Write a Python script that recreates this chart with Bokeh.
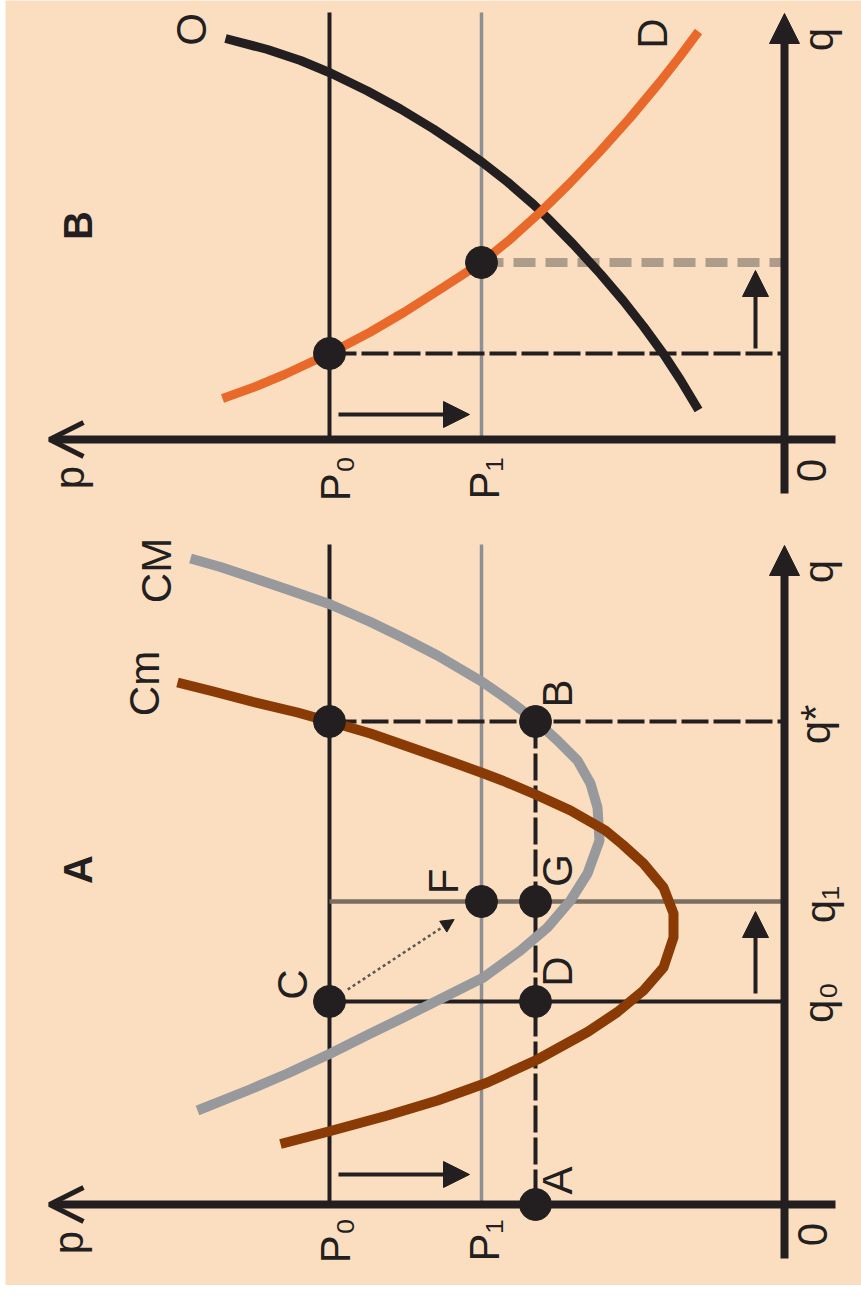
import math
from bokeh.plotting import figure
from bokeh.models import ColumnDataSource, Arrow, OpenHead, NormalHead, Range1d
from bokeh.core.properties import value
from bokeh.embed import file_html
from bokeh.resources import INLINE

# ---------------- data (x = price p, y = quantity q) ----------------
# Panel B: market supply "O" and demand "D"
supply_p = [11.18, 10.34, 9.68, 9.08, 8.34, 7.68, 7.02, 6.48, 6.04, 5.54, 5.02, 4.74, 4.22, 3.68, 3.22, 2.82, 2.42, 2.08, 1.72]
supply_q = [8.02, 7.80, 7.58, 7.33, 6.97, 6.61, 6.21, 5.85, 5.54, 5.15, 4.70, 4.43, 3.90, 3.31, 2.77, 2.26, 1.71, 1.19, 0.59]
demand_p = [11.24, 10.60, 10.00, 9.10, 8.30, 7.60, 6.80, 6.06, 5.50, 4.88, 4.30, 3.70, 3.10, 2.50, 2.10, 1.72]
demand_q = [0.82, 1.05, 1.30, 1.72, 2.14, 2.55, 3.06, 3.54, 3.99, 4.55, 5.12, 5.75, 6.42, 7.14, 7.65, 8.16]

# Panel A: firm average cost "CM" and marginal cost "Cm"
cme_p = [11.88, 11.28, 10.62, 9.94, 9.08, 8.28, 7.62, 6.94, 6.04, 5.48, 4.98, 4.54, 4.14, 3.88, 3.74, 3.70,
         3.94, 4.28, 4.74, 5.28, 6.02, 6.82, 7.62, 8.28, 9.08, 9.94, 10.74, 11.74]
cme_q = [12.92, 12.75, 12.53, 12.30, 12.00, 11.65, 11.33, 10.98, 10.45, 10.06, 9.68, 9.28, 8.88, 8.42, 7.94, 7.28,
         6.62, 6.08, 5.54, 5.08, 4.54, 4.14, 3.74, 3.42, 3.02, 2.62, 2.28, 1.88]
cmg_p = [12.14, 11.42, 10.62, 9.74, 9.10, 8.28, 7.42, 6.62, 6.04, 5.62, 4.98, 4.28, 3.58, 3.24, 2.82, 2.42, 2.22,
         2.22, 2.42, 2.82, 3.34, 3.94, 4.94, 5.94, 6.94, 7.94, 9.08, 10.08]
cmg_q = [10.44, 10.26, 10.05, 9.84, 9.66, 9.42, 9.12, 8.84, 8.63, 8.47, 8.20, 7.88, 7.48, 7.20, 6.82, 6.34, 5.82,
         5.34, 4.74, 4.28, 3.85, 3.45, 2.90, 2.44, 2.08, 1.78, 1.47, 1.21]

# price levels
P0 = 9.10
P1 = 6.06
pA = 4.98
# market quantities (panel B)
qB0 = 1.72
qB1 = 3.54
# firm quantities (panel A)
q_star = 9.66
q1 = 6.06
q0 = 4.06

# axis texts
p_name = "p"
q_name = "q"
origin_name = "0"
P0_name = "P₀"
P1_name = "P₁"
qstar_name = "q*"
q1_name = "q₁"
q0_name = "q₀"

# ---------------- style ----------------
BG = "#FBDEC0"
INK = "#231f20"
ORANGE = "#E8692A"
BROWN = "#8A3B05"
GRAY = "#98999C"
FONT = value("Liberation Sans")
ROT = math.pi / 2
DASH = "27 5"

W = 861
H = 1285

p = figure(width=W, height=H, x_range=Range1d(15.58, -1.54), y_range=Range1d(-1.62, 24.08),
           output_backend="svg", toolbar_location=None,
           x_axis_location=None, y_axis_location=None,
           min_border_left=5, min_border_right=0, min_border_top=0, min_border_bottom=0)
p.extra_y_ranges = {"B": Range1d(-16.92, 8.78)}
p.background_fill_color = BG
p.border_fill_color = "white"
p.outline_line_color = None
p.xgrid.visible = False
p.ygrid.visible = False


def axes(rn, q_tip, q_bottom):
    p.add_layout(Arrow(x_start=-1.02, y_start=0, x_end=14.70, y_end=0, line_color=INK, line_width=8,
                       y_range_name=rn, end=OpenHead(size=34, line_color=INK, line_width=5)))
    p.add_layout(Arrow(x_start=0, y_start=q_bottom, x_end=0, y_end=q_tip, line_color=INK, line_width=8,
                       y_range_name=rn, end=NormalHead(size=30, fill_color=INK, line_color=INK, line_width=1)))


def arrow(rn, x0, y0, x1, y1, size=26, lw=4):
    p.add_layout(Arrow(x_start=x0, y_start=y0, x_end=x1, y_end=y1, line_color=INK, line_width=lw,
                       y_range_name=rn, end=NormalHead(size=size, fill_color=INK, line_color=INK, line_width=1)))


def labels(rn, xs, ys, texts, xo, yo, size="42px", style="normal"):
    src = ColumnDataSource(dict(x=xs, y=ys, t=texts, xo=xo, yo=yo))
    p.text(x="x", y="y", text="t", x_offset="xo", y_offset="yo", source=src, angle=ROT,
           text_font=FONT, text_font_size=value(size), text_font_style=style, text_color=INK,
           text_align="center", text_baseline="middle", y_range_name=rn)


# ================= Panel B (top) =================
B = "B"
top_B = 8.54
p.segment(x0=[P0], y0=[0], x1=[P0], y1=[top_B], line_color=INK, line_width=4, y_range_name=B)
p.segment(x0=[P1], y0=[0], x1=[P1], y1=[top_B], line_color="#8E8F93", line_width=3.5, y_range_name=B)
p.segment(x0=[P0], y0=[qB0], x1=[0], y1=[qB0], line_color=INK, line_width=4, line_dash=DASH, y_range_name=B)
p.segment(x0=[P1], y0=[qB1], x1=[0], y1=[qB1], line_color="#AE9C8A", line_width=9, line_dash="22 10",
          y_range_name=B)
p.line(supply_p, supply_q, line_color=INK, line_width=9, line_join="round", y_range_name=B)
p.line(demand_p, demand_q, line_color=ORANGE, line_width=9, line_join="round", y_range_name=B)
axes(B, 8.52, -1.08)
p.scatter([P0, P1], [qB0, qB1], size=32, color=INK, y_range_name=B)
arrow(B, P0 - 0.18, 0.5, P1 + 0.24, 0.5)
arrow(B, 0.58, qB0 + 0.1, 0.58, qB1 - 0.16)

labels(B, [14.70, P0, P1, 0, 0], [0, 0, 0, 0, 8.52],
       [p_name, P0_name, P1_name, origin_name, q_name],
       [20, 6, 3, 27, 34], [38, 39, 39, 31, 26])
labels(B, [supply_p[0], demand_p[-1]], [supply_q[0], demand_q[-1]], ["O", "D"], [-34, -46], [-9, 2])
labels(B, [14.14], [4.28], ["B"], [0], [0], size="40px", style="bold")

# ================= Panel A (bottom) =================
top_A = 13.2
p.segment(x0=[P0], y0=[0], x1=[P0], y1=[top_A], line_color=INK, line_width=4)
p.segment(x0=[P1], y0=[0], x1=[P1], y1=[top_A], line_color="#8E8F93", line_width=3.5)
p.segment(x0=[P0], y0=[q1], x1=[0], y1=[q1], line_color="#7A6D62", line_width=4.5)
p.segment(x0=[P0], y0=[q0], x1=[0], y1=[q0], line_color=INK, line_width=4)
p.segment(x0=[P0, pA], y0=[q_star, q_star], x1=[0, pA], y1=[q_star, 0],
          line_color=INK, line_width=4, line_dash=DASH)
p.line(cme_p, cme_q, line_color=GRAY, line_width=10, line_join="round")
p.line(cmg_p, cmg_q, line_color=BROWN, line_width=10, line_join="round")
axes("default", 13.18, -1.08)

# dotted arrow from C towards F
t0, t1 = 0.12, 0.82
p.add_layout(Arrow(x_start=P0 + t0 * (P1 - P0), y_start=q0 + t0 * (q1 - q0),
                   x_end=P0 + t1 * (P1 - P0), y_end=q0 + t1 * (q1 - q0),
                   line_color="#5E544C", line_width=2.5, line_dash="3 3",
                   end=NormalHead(size=13, fill_color=INK, line_color=INK, line_width=1)))

p.scatter([P0, pA, P1, pA, P0, pA, pA], [q_star, q_star, q1, q1, q0, q0, 0], size=32, color=INK)
arrow("default", P0 - 0.18, 0.6, P1 + 0.24, 0.6)
arrow("default", 0.58, q0 + 0.16, 0.58, q1 - 0.2)

labels("default", [14.70, P0, P1, 0, 0, 0, 0, 0], [0, 0, 0, 0, 13.18, q_star, q1, q0],
       [p_name, P0_name, P1_name, origin_name, q_name, qstar_name, q1_name, q0_name],
       [19, 6, 3, 28, 34, 31, 36, 34], [38, 36, 36, 30, 26, 3, 3, 1])
labels("default", [pA, pA, P1, P0, pA, pA], [q_star, q1, q1, q0, q0, 0],
       ["B", "G", "F", "C", "D", "A"],
       [22, 22, -38, -37, 22, 22], [-28, -31, -20, -17, -30, -24])
labels("default", [cme_p[0], cmg_p[0]], [cme_q[0], cmg_q[0]], ["CM", "Cm"], [-34, -33], [12, 1])
labels("default", [14.14], [6.7], ["A"], [0], [0], size="40px", style="bold")

open("out.html", "w").write(file_html(p, INLINE))
